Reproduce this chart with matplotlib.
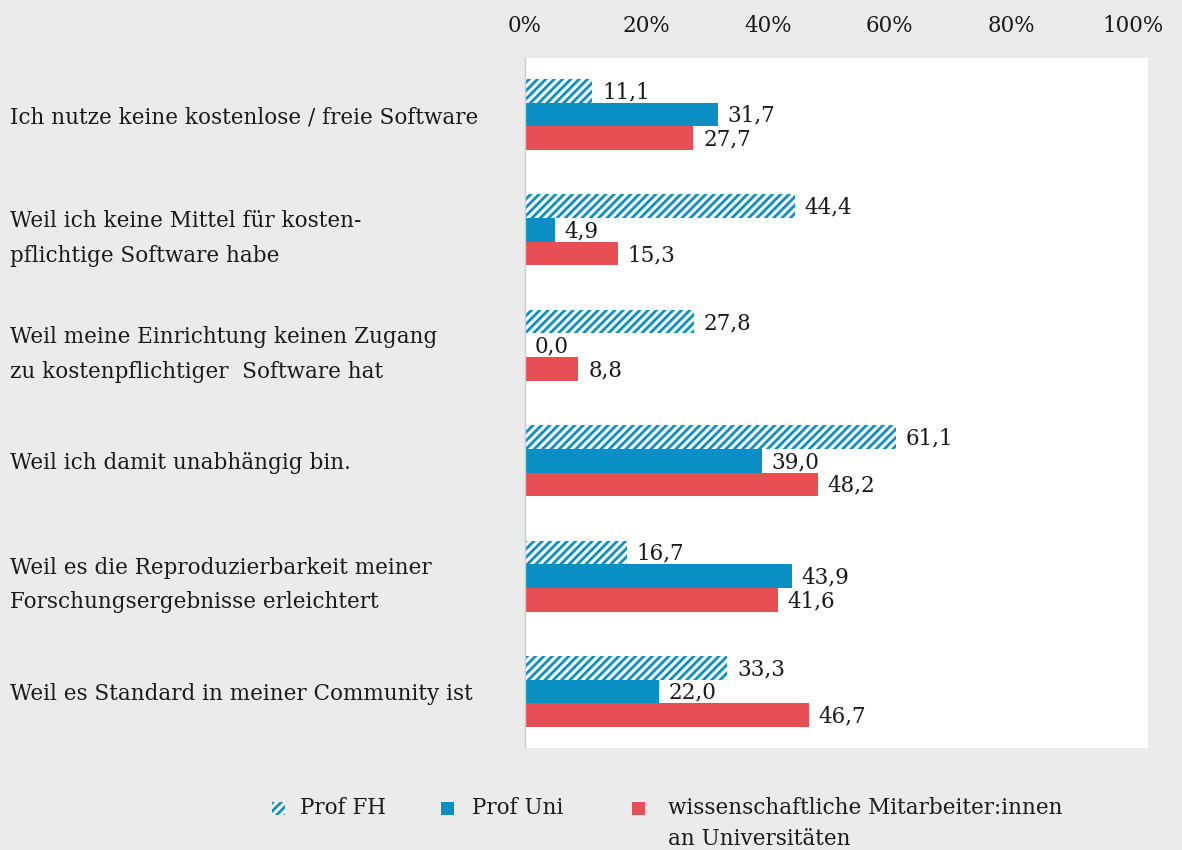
import numpy as np
import matplotlib.pyplot as plt
from matplotlib.patches import Rectangle

# Daten
kategorien = [
    'Ich nutze keine kostenlose / freie Software',
    'Weil ich keine Mittel für kosten-\npflichtige Software habe',
    'Weil meine Einrichtung keinen Zugang\nzu kostenpflichtiger  Software hat',
    'Weil ich damit unabhängig bin.',
    'Weil es die Reproduzierbarkeit meiner\nForschungsergebnisse erleichtert',
    'Weil es Standard in meiner Community ist',
]
prof_fh = [11.1, 44.4, 27.8, 61.1, 16.7, 33.3]
prof_uni = [31.7, 4.9, 0.0, 39.0, 43.9, 22.0]
wimi = [27.7, 15.3, 8.8, 48.2, 41.6, 46.7]
serien_namen = ['Prof FH', 'Prof Uni', 'wissenschaftliche Mitarbeiter:innen\nan Universitäten']
x_ticks = [0, 20, 40, 60, 80, 100]

blau = '#0a8fc4'
rot = '#e84f55'
grau = '#ebebeb'
schrift = '#1a1a1a'
fs = 15.5

plt.rcParams['font.family'] = ['DejaVu Serif']
plt.rcParams['hatch.linewidth'] = 2.0

fig = plt.figure(figsize=(11.82, 8.5), dpi=100, facecolor=grau)
ax = fig.add_axes([525/1182, 1-748/850, 623/1182, 690/850])
ax.set_facecolor('white')

y = np.arange(len(kategorien))
h = 0.205

b1 = ax.barh(y - h, prof_fh, height=h, facecolor='white', edgecolor=blau,
             hatch='////', linewidth=0)
b2 = ax.barh(y, prof_uni, height=h, color=blau, linewidth=0)
b3 = ax.barh(y + h, wimi, height=h, color=rot, linewidth=0)

for bars, vals in [(b1, prof_fh), (b2, prof_uni), (b3, wimi)]:
    for rect, v in zip(bars, vals):
        ax.annotate(f'{v:.1f}'.replace('.', ','),
                    (rect.get_width(), rect.get_y() + rect.get_height() / 2),
                    xytext=(7, -1), textcoords='offset points',
                    va='center', ha='left', fontsize=fs, color=schrift)

ax.set_xlim(0, 102.5)
ax.set_ylim(5.49, -0.49)
ax.xaxis.tick_top()
ax.set_xticks(x_ticks)
ax.set_xticklabels([f'{t}%' for t in x_ticks], fontsize=fs, color=schrift)
ax.tick_params(axis='x', length=0, pad=15)

ax.set_yticks(y)
ax.set_yticklabels(kategorien, fontsize=fs, color=schrift, ha='left',
                   linespacing=1.75)
ax.tick_params(axis='y', length=0, pad=371)

for s in ['top', 'right', 'bottom']:
    ax.spines[s].set_visible(False)
ax.spines['left'].set_color('#cccccc')
ax.spines['left'].set_linewidth(1)

# Legende von Hand (Symbol neben der ersten Textzeile)
leg_x = [272, 441, 632]
leg_txt = [300, 472, 668]
leg_stil = [dict(facecolor='white', edgecolor=blau, hatch='////', linewidth=0),
            dict(facecolor=blau, linewidth=0),
            dict(facecolor=rot, linewidth=0)]
for lx, tx, name, stil in zip(leg_x, leg_txt, serien_namen, leg_stil):
    fig.patches.append(Rectangle((lx/1182, 1-815/850), 13/1182, 13/850,
                                 transform=fig.transFigure, **stil))
    fig.text(tx/1182, 1-797/850, name, fontsize=fs, color=schrift,
             va='top', ha='left', linespacing=1.55)

fig.savefig('out.png', dpi=100, facecolor=grau)
